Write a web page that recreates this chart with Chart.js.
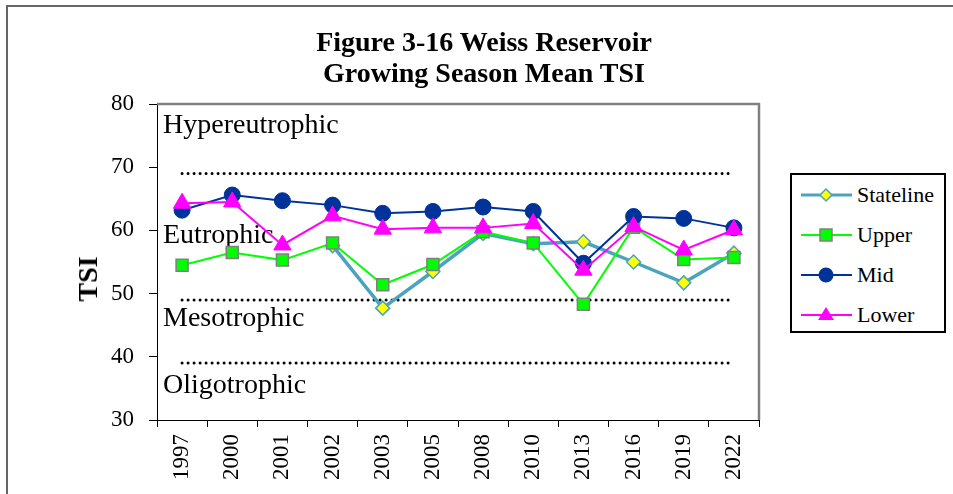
<!DOCTYPE html>
<html>
<head>
<meta charset="utf-8">
<script src="https://cdn.jsdelivr.net/npm/chart.js@4/dist/chart.umd.min.js"></script>
<style>
  html, body { margin: 0; padding: 0; background: #fff; }
  #wrap { position: relative; width: 953px; height: 494px; overflow: hidden; font-family: "Liberation Serif", "Times New Roman", serif; }
  #frame { position: absolute; left: 6px; top: 5px; width: 1000px; height: 600px; border-top: 2px solid #666; border-left: 2px solid #666; box-sizing: border-box; }
  canvas { position: absolute; left: 0; top: 0; }
  #title { position: absolute; left: 0; top: 26px; width: 968px; text-align: center; font-weight: bold; font-size: 28px; line-height: 31px; color: #000; }
  #ytitle { position: absolute; left: 88px; top: 279px; transform: translate(-50%, -50%) rotate(-90deg); font-weight: bold; font-size: 28px; color: #000; white-space: nowrap; }
  #legend { position: absolute; left: 790px; top: 173px; width: 156px; height: 160px; border: 2px solid #000; box-sizing: border-box; background: #fff; }
  .item { position: absolute; left: 9px; height: 30px; display: flex; align-items: center; font-size: 22px; color: #000; font-family: "Liberation Serif", "Times New Roman", serif; }
  .item svg { margin-right: 5px; }
</style>
</head>
<body>
<div id="wrap">
  <div id="frame"></div>
  <canvas id="c" width="953" height="494"></canvas>
  <div id="title">Figure 3-16 Weiss Reservoir<br>Growing Season Mean TSI</div>
  <div id="ytitle">TSI</div>
  <div id="legend"></div>
</div>
<script>
const categories = ['1997','2000','2001','2002','2003','2005','2008','2010','2013','2016','2019','2022'];
const seriesNames = ['Stateline','Upper','Mid','Lower'];
const stateline = [null, null, null, 57.6, 47.7, 53.5, 59.5, 57.9, 58.2, 55.0, 51.7, 56.4];
const upper     = [54.5, 56.5, 55.3, 58.0, 51.4, 54.6, 59.8, 58.0, 48.3, 60.5, 55.4, 55.7];
const mid       = [63.2, 65.6, 64.7, 64.0, 62.7, 63.0, 63.7, 63.0, 54.8, 62.2, 61.9, 60.4];
const lower     = [64.3, 64.5, 57.7, 62.3, 60.2, 60.4, 60.4, 61.1, 53.7, 60.6, 56.9, 60.1];
const zoneBoundaries = [69, 49, 39];
const zoneNames = ['Hypereutrophic', 'Eutrophic', 'Mesotrophic', 'Oligotrophic'];
const zoneLabelValues = [76.5, 59.1, 46.1, 35.5];
const yTicks = [30, 40, 50, 60, 70, 80];

const SERIF = "'Liberation Serif', 'Times New Roman', serif";
Chart.defaults.font.family = SERIF;

const styles = [
  { line: '#4BA3BE', fill: '#FFFF00', edge: '#4BA3BE', shape: 'rectRot', radius: 7, lw: 3.5, bw: 1.5 },
  { line: '#00FF00', fill: '#00FF00', edge: '#808080', shape: 'rect', radius: 8.5, lw: 2, bw: 1.5 },
  { line: '#003399', fill: '#003399', edge: '#003399', shape: 'circle', radius: 8, lw: 2, bw: 1 },
  { line: '#FF00FF', fill: '#FF00FF', edge: '#FF00FF', shape: 'triangle', radius: 10, lw: 2, bw: 1 }
];
const seriesData = [stateline, upper, mid, lower];

const datasets = seriesData.map((d, i) => ({
  label: seriesNames[i],
  data: d,
  borderColor: styles[i].line,
  backgroundColor: styles[i].fill,
  borderWidth: styles[i].lw,
  pointStyle: styles[i].shape,
  pointRadius: styles[i].radius,
  pointHoverRadius: styles[i].radius,
  pointBackgroundColor: styles[i].fill,
  pointBorderColor: styles[i].edge,
  pointBorderWidth: styles[i].bw,
  tension: 0,
  spanGaps: false,
  order: 4 - i
}));

zoneBoundaries.forEach(v => {
  datasets.push({
    label: 'boundary',
    data: [{ x: categories[0], y: v }, { x: categories[categories.length - 1], y: v }],
    borderColor: '#000',
    borderWidth: 3,
    borderDash: [0, 6],
    borderCapStyle: 'round',
    pointRadius: 0,
    order: 10
  });
});

const zonePlugin = {
  id: 'zones',
  beforeDatasetsDraw(chart) {
    const { ctx, scales: { y }, chartArea } = chart;
    ctx.save();
    ctx.font = "28px " + SERIF;
    ctx.fillStyle = '#000';
    ctx.textBaseline = 'middle';
    ctx.textAlign = 'left';
    zoneNames.forEach((n, i) => {
      ctx.fillText(n, chartArea.left + 6, y.getPixelForValue(zoneLabelValues[i]));
    });
    ctx.restore();
  },
  afterDraw(chart) {
    const { ctx, chartArea } = chart;
    ctx.save();
    ctx.strokeStyle = '#808080';
    ctx.lineWidth = 2.5;
    ctx.beginPath();
    ctx.moveTo(chartArea.left, chartArea.top);
    ctx.lineTo(chartArea.right, chartArea.top);
    ctx.lineTo(chartArea.right, chartArea.bottom);
    ctx.stroke();
    ctx.restore();
  }
};

new Chart(document.getElementById('c'), {
  type: 'line',
  data: { labels: categories, datasets },
  options: {
    responsive: false,
    devicePixelRatio: 1,
    animation: false,
    layout: { padding: { left: 0, top: 104, right: 194, bottom: 0 } },
    plugins: { legend: { display: false }, tooltip: { enabled: false }, title: { display: false } },
    scales: {
      x: {
        type: 'category',
        offset: true,
        afterFit: s => { s.height = 74; },
        grid: { offset: true, drawOnChartArea: false, drawTicks: true, tickLength: 7, color: '#000', lineWidth: 1 },
        border: { display: true, color: '#000', width: 1 },
        ticks: { autoSkip: false, minRotation: 90, maxRotation: 90, padding: 7, color: '#000', font: { family: SERIF, size: 23 } }
      },
      y: {
        min: 30, max: 80,
        afterFit: s => { s.width = 157; },
        afterBuildTicks: s => { s.ticks = yTicks.map(v => ({ value: v })); },
        grid: { drawOnChartArea: false, drawTicks: true, tickLength: 8, color: '#000', lineWidth: 1 },
        border: { display: true, color: '#000', width: 1 },
        ticks: { padding: 15, color: '#000', font: { family: SERIF, size: 23 } }
      }
    }
  },
  plugins: [zonePlugin]
});

// legend
const legend = document.getElementById('legend');
function markerSvg(st) {
  let m = '';
  if (st.shape === 'rectRot') m = '<polygon points="25,4 31,10 25,16 19,10" fill="' + st.fill + '" stroke="' + st.edge + '" stroke-width="1.5"/>';
  else if (st.shape === 'rect') m = '<rect x="19" y="4" width="12" height="12" fill="' + st.fill + '" stroke="' + st.edge + '" stroke-width="1.5"/>';
  else if (st.shape === 'circle') m = '<circle cx="25" cy="10" r="7.5" fill="' + st.fill + '"/>';
  else m = '<polygon points="25,2 33,15 17,15" fill="' + st.fill + '"/>';
  return '<svg width="51" height="20"><line x1="0" y1="10" x2="51" y2="10" stroke="' + st.line + '" stroke-width="' + Math.min(st.lw, 3) + '"/>' + m + '</svg>';
}
seriesNames.forEach((n, i) => {
  const div = document.createElement('div');
  div.className = 'item';
  div.style.top = (5 + i * 40) + 'px';
  div.innerHTML = markerSvg(styles[i]) + '<span>' + n + '</span>';
  legend.appendChild(div);
});
</script>
</body>
</html>
